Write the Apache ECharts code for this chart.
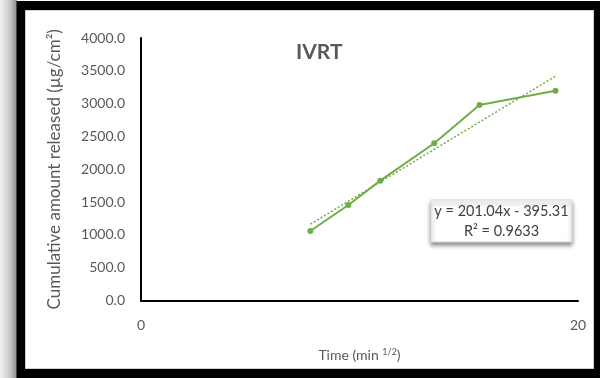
<!DOCTYPE html>
<html>
<head>
<meta charset="utf-8">
<style>
html,body{margin:0;padding:0;background:#fff;}
#chart{width:600px;height:378px;}
</style>
<script src="https://cdn.jsdelivr.net/npm/echarts@6/dist/echarts.min.js"></script>
</head>
<body>
<div id="chart"></div>
<script>
// Data
const timeSqrt = [7.75, 9.49, 10.95, 13.42, 15.49, 18.97];
const released = [1059, 1455, 1826, 2396, 2979, 3197];
const trendSlope = 201.04;
const trendIntercept = -395.31;
const rSquared = '0.9633';
const yTicks = [0, 500, 1000, 1500, 2000, 2500, 3000, 3500, 4000];
const xTicks = [0, 20];

const FONT = 'Lato, "Open Sans", sans-serif';
const green = '#70AD47';

const seriesData = timeSqrt.map((t, i) => [t, released[i]]);
const xFirst = timeSqrt[0], xLast = timeSqrt[timeSqrt.length - 1];
const trendData = [
  [xFirst, trendSlope * xFirst + trendIntercept],
  [xLast, trendSlope * xLast + trendIntercept]
];

const chart = echarts.init(document.getElementById('chart'), null, {renderer: 'canvas'});
chart.setOption({
  animation: false,
  backgroundColor: '#fff',
  textStyle: {fontFamily: FONT},
  grid: {left: 141, top: 38, right: 22, bottom: 77.5, containLabel: false},
  title: {
    text: 'IVRT', left: 291, top: 37,
    textStyle: {fontFamily: FONT, fontSize: 21, fontWeight: 'bold', color: '#595959'}
  },
  xAxis: {
    type: 'value', min: xTicks[0], max: xTicks[xTicks.length - 1], interval: 20,
    axisLine: {show: true, onZero: false, lineStyle: {color: '#000', width: 2}},
    axisTick: {show: false},
    splitLine: {show: false},
    axisLabel: {margin: 18, fontSize: 14, color: '#595959', fontFamily: FONT,
      formatter: v => xTicks.includes(v) ? String(v) : ''},
    name: '{a|Time (min }{s|1/2}{a|)}',
    nameLocation: 'middle', nameGap: 47,
    nameTextStyle: {rich: {
      a: {fontSize: 14, color: '#595959', fontFamily: FONT},
      s: {fontSize: 9, color: '#595959', fontFamily: FONT, verticalAlign: 'top', padding: [0, 0, 7, 0]}
    }}
  },
  yAxis: {
    type: 'value', min: 0, max: 4000, interval: 500,
    axisLine: {show: true, lineStyle: {color: '#000', width: 2}},
    axisTick: {show: false},
    splitLine: {show: false},
    axisLabel: {margin: 16, fontSize: 14, color: '#595959', fontFamily: FONT,
      formatter: v => v.toFixed(1)},
    name: 'Cumulative amount released (µg/cm²)',
    nameLocation: 'middle', nameGap: 78, nameRotate: 90,
    nameTextStyle: {fontSize: 17, color: '#595959', fontFamily: FONT}
  },
  series: [
    {
      type: 'line', data: trendData, symbol: 'none', silent: true,
      lineStyle: {color: green, width: 1.5, type: [2, 2]}, z: 1
    },
    {
      type: 'line', data: seriesData, symbol: 'circle', symbolSize: 6,
      itemStyle: {color: green}, lineStyle: {color: green, width: 2}, z: 2
    }
  ],
  graphic: [
    // left shadow strip
    {type: 'rect', shape: {x: 0, y: 0, width: 17, height: 378}, z: 100,
      style: {fill: new echarts.graphic.LinearGradient(0, 0, 1, 0, [
        {offset: 0, color: '#f4f4f4'}, {offset: 0.6, color: '#c8c8c8'}, {offset: 1, color: '#8a8a8a'}])}},
    // black frame
    {type: 'rect', shape: {x: 21, y: 5.5, width: 577, height: 368}, z: 100,
      style: {fill: 'none', stroke: '#000', lineWidth: 9}},
    {type: 'rect', shape: {x: 25.5, y: 10.5, width: 568, height: 358}, z: 100,
      style: {fill: 'none', stroke: '#d0d0d0', lineWidth: 1}},
    // equation box
    {type: 'rect', shape: {x: 431, y: 200, width: 141, height: 42}, z: 50,
      style: {fill: '#fff', stroke: '#d9d9d9', lineWidth: 1,
        shadowBlur: 4, shadowOffsetY: 3, shadowColor: 'rgba(0,0,0,0.45)'}},
    {type: 'text', x: 501.5, y: 211, z: 51,
      style: {text: 'y = ' + trendSlope.toFixed(2) + 'x - ' + Math.abs(trendIntercept).toFixed(2),
        fontFamily: FONT, fontSize: 14.5, fill: '#404040', align: 'center', verticalAlign: 'middle'}},
    {type: 'text', x: 501.5, y: 231, z: 51,
      style: {text: 'R² = ' + rSquared,
        fontFamily: FONT, fontSize: 14.5, fill: '#404040', align: 'center', verticalAlign: 'middle'}}
  ]
});
</script>
</body>
</html>
